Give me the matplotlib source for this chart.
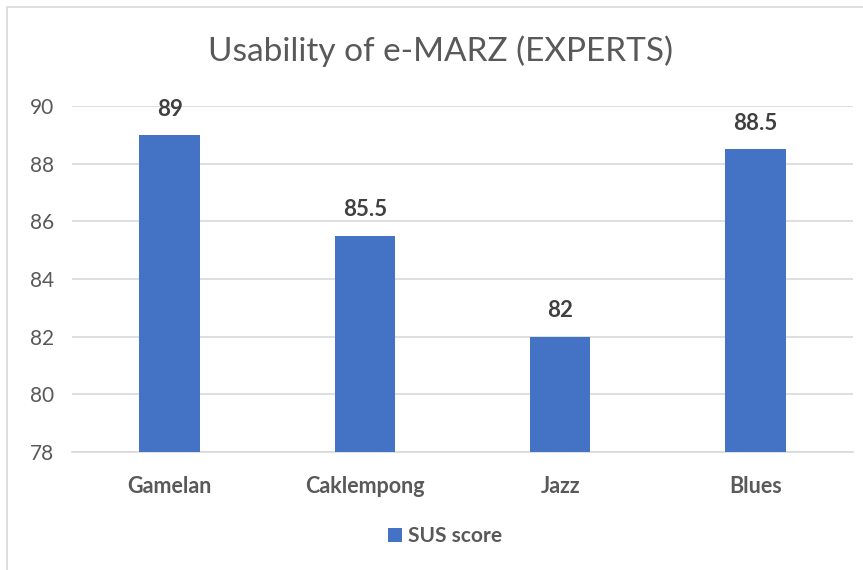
import matplotlib.pyplot as plt
from matplotlib.patches import Rectangle

# chart data
categories = ["Gamelan", "Caklempong", "Jazz", "Blues"]
sus_scores = [89, 85.5, 82, 88.5]
series_name = "SUS score"

BAR_COLOR = "#4472C4"
TEXT_GRAY = "#595959"
GRID_GRAY = "#D9D9D9"
FONT = "Lato"

fig = plt.figure(figsize=(8.63, 5.70), dpi=100)
ax = fig.add_axes([72 / 863, 1 - 452 / 570, (853 - 72) / 863, (452 - 106) / 570])

# chart frame (Excel-style border, cut off on the right/bottom)
fig.patches.append(Rectangle((7 / 863, -0.1), 1.2, 1 - 7 / 570 + 0.1,
                             transform=fig.transFigure, fill=False,
                             edgecolor=GRID_GRAY, lw=1.2))

x = range(len(categories))
bars = ax.bar(x, sus_scores, width=0.31, color=BAR_COLOR, label=series_name, zorder=3)

ax.set_ylim(78, 90)
ax.set_xlim(-0.5, len(categories) - 0.5)
ax.set_yticks(range(78, 91, 2))
ax.yaxis.grid(True, color=GRID_GRAY, lw=1.2, zorder=0)
for side in ["top", "right", "left"]:
    ax.spines[side].set_visible(False)
ax.spines["bottom"].set_color(GRID_GRAY)
ax.spines["bottom"].set_linewidth(1.2)
ax.tick_params(axis="both", length=0)
ax.tick_params(axis="y", labelsize=15, labelcolor=TEXT_GRAY, pad=13)
ax.tick_params(axis="x", labelsize=15.5, labelcolor=TEXT_GRAY, pad=17)
ax.set_xticks(list(x))
ax.set_xticklabels(categories, fontweight="bold", fontfamily=FONT)
for lbl in ax.get_yticklabels():
    lbl.set_fontfamily(FONT)

# data labels above bars
for rect, val in zip(bars, sus_scores):
    ax.annotate(f"{val:g}", (rect.get_x() + rect.get_width() / 2, val),
                xytext=(0, 11), textcoords="offset points", ha="center", va="bottom",
                fontsize=16, fontweight="bold", color="#404040", fontfamily=FONT,
                annotation_clip=False)

fig.text(440 / 863, 1 - 51 / 570, "Usability of e-MARZ (EXPERTS)", ha="center", va="center",
         fontsize=24, color=TEXT_GRAY, fontfamily=FONT)

leg = fig.legend(loc="center", bbox_to_anchor=(445 / 863, 1 - 536 / 570), frameon=False,
                 handlelength=0.65, handleheight=0.65, handletextpad=0.3,
                 prop={"family": FONT, "weight": "bold", "size": 15})
for t in leg.get_texts():
    t.set_color(TEXT_GRAY)

fig.savefig("out.png", dpi=100, facecolor="white")
